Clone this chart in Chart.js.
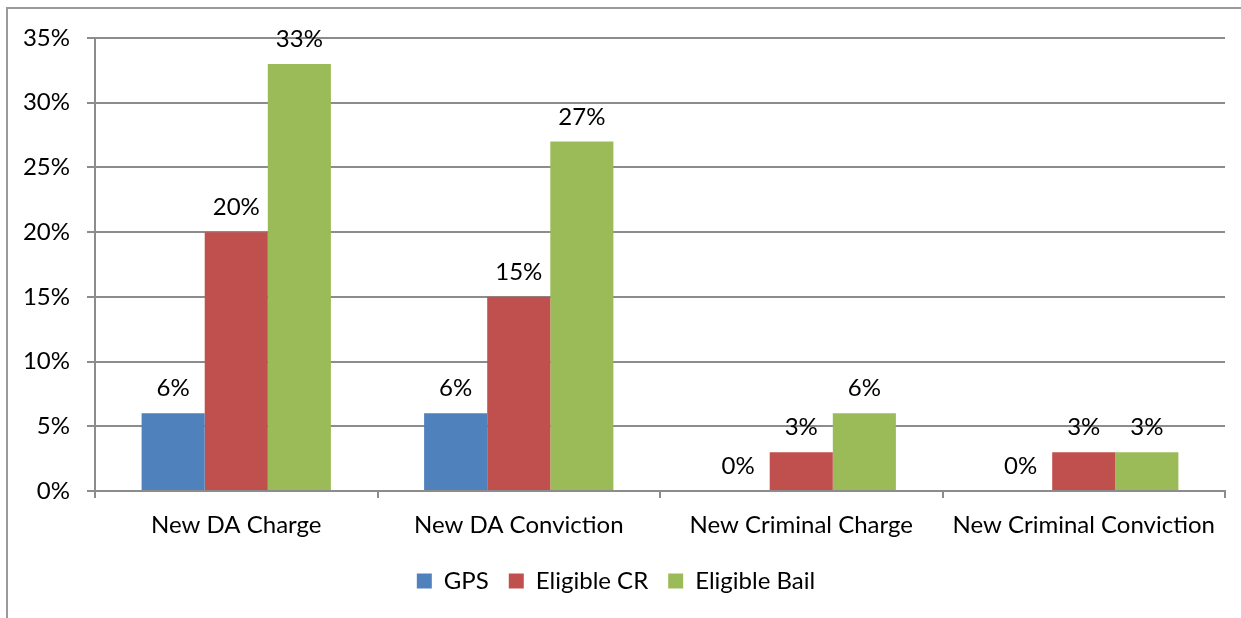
<!DOCTYPE html>
<html lang="en">
<head>
  <meta charset="UTF-8">
  <title>Outcomes by Group</title>
  <script src="https://cdn.jsdelivr.net/npm/chart.js"></script>
  <style>
    html, body {
      margin: 0;
      padding: 0;
      background: #fff;
    }
    #wrap {
      width: 1241px;
      height: 618px;
      position: relative;
    }
  </style>
</head>
<body>
  <div id="wrap">
    <canvas id="outcomeChart" width="1241" height="618"></canvas>
  </div>
  <script>
    const categories = ["New DA Charge", "New DA Conviction", "New Criminal Charge", "New Criminal Conviction"];
    const gpsValues = [6, 6, 0, 0];
    const eligibleCrValues = [20, 15, 3, 3];
    const eligibleBailValues = [33, 27, 6, 3];
    const yTicks = [0, 5, 10, 15, 20, 25, 30, 35];

    const FONT = "Lato, 'Noto Sans', sans-serif";
    const FONT_SIZE = 24;
    const GRID = "#8c8c8c";

    // value labels above each bar
    const barLabels = {
      id: "barLabels",
      afterDatasetsDraw(chart) {
        const ctx = chart.ctx;
        ctx.save();
        ctx.font = FONT_SIZE + "px " + FONT;
        ctx.fillStyle = "#000";
        ctx.textAlign = "center";
        ctx.textBaseline = "alphabetic";
        chart.data.datasets.forEach((ds, i) => {
          chart.getDatasetMeta(i).data.forEach((bar, j) => {
            ctx.fillText(ds.data[j] + "%", bar.x, bar.y - 17);
          });
        });
        ctx.restore();
      }
    };

    // outer frame of the chart object
    const frame = {
      id: "frame",
      beforeDraw(chart) {
        const ctx = chart.ctx;
        ctx.save();
        ctx.strokeStyle = "#9a9a9a";
        ctx.lineWidth = 2;
        ctx.strokeRect(7, 8, chart.width + 20, chart.height + 20);
        ctx.restore();
      }
    };

    new Chart(document.getElementById("outcomeChart"), {
      type: "bar",
      data: {
        labels: categories,
        datasets: [
          { label: "GPS", data: gpsValues, backgroundColor: "#4F81BD" },
          { label: "Eligible CR", data: eligibleCrValues, backgroundColor: "#C0504D" },
          { label: "Eligible Bail", data: eligibleBailValues, backgroundColor: "#9BBB59" }
        ]
      },
      options: {
        responsive: false,
        animation: false,
        layout: { padding: { left: 7, top: 38, right: 16, bottom: 15 } },
        datasets: {
          bar: { barPercentage: 1.0, categoryPercentage: 0.67 }
        },
        scales: {
          x: {
            grid: {
              offset: true,
              drawOnChartArea: false,
              drawTicks: true,
              tickLength: 7,
              color: GRID,
              lineWidth: 2
            },
            border: { color: GRID, width: 2 },
            ticks: {
              color: "#000",
              font: { family: FONT, size: FONT_SIZE },
              padding: 13,
              maxRotation: 0
            },
            afterFit(scale) { scale.height = 58; }
          },
          y: {
            min: 0,
            max: 35,
            afterBuildTicks(scale) {
              scale.ticks = yTicks.map(v => ({ value: v }));
            },
            grid: {
              color: GRID,
              lineWidth: 2,
              tickLength: 8
            },
            border: { color: GRID, width: 2 },
            ticks: {
              color: "#000",
              font: { family: FONT, size: FONT_SIZE },
              padding: 17,
              callback: v => v + "%"
            },
            afterFit(scale) { scale.width = 88; }
          }
        },
        plugins: {
          legend: {
            position: "bottom",
            labels: {
              color: "#000",
              font: { family: FONT, size: FONT_SIZE },
              boxWidth: 15,
              boxHeight: 15,
              padding: 20
            }
          },
          tooltip: { enabled: false }
        }
      },
      plugins: [barLabels, frame]
    });
  </script>
</body>
</html>
